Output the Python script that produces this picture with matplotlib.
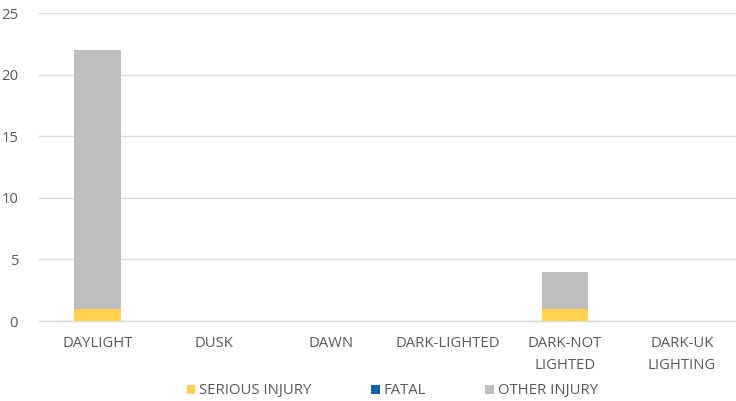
import numpy as np
import matplotlib.pyplot as plt

plt.rcParams['font.family'] = ['Open Sans', 'DejaVu Sans']

categories = ['DAYLIGHT', 'DUSK', 'DAWN', 'DARK-LIGHTED', 'DARK-NOT\nLIGHTED', 'DARK-UK\nLIGHTING']
serious = [1, 0, 0, 0, 1, 0]
fatal = [0, 0, 0, 0, 0, 0]
other = [21, 0, 0, 0, 3, 0]

text_col = '#595959'
fig = plt.figure(figsize=(7.36, 4.01), dpi=100)
ax = fig.add_axes([0.053, 0.1995, 0.953, 0.768])

x = np.arange(len(categories))
w = 0.40
ax.bar(x, serious, w, color='#FFD34F', label='SERIOUS INJURY', zorder=3)
ax.bar(x, fatal, w, bottom=serious, color='#0F62B0', label='FATAL', zorder=3)
bottom2 = np.array(serious) + np.array(fatal)
ax.bar(x, other, w, bottom=bottom2, color='#BFBFBF', label='OTHER INJURY', zorder=3)

ax.set_xlim(-0.5, len(categories) - 0.5)
ax.set_ylim(0, 25)
ax.set_yticks(range(0, 26, 5))
ax.set_xticks(x)
ax.set_xticklabels(categories, linespacing=1.6)
ax.grid(axis='y', color='#D9D9D9', linewidth=1, zorder=0)
for s in ['top', 'right', 'left']:
    ax.spines[s].set_visible(False)
ax.spines['bottom'].set_color('#D9D9D9')
ax.spines['bottom'].set_linewidth(1)
ax.tick_params(axis='both', length=0, colors=text_col, labelsize=10.7)
ax.tick_params(axis='x', pad=11)
ax.tick_params(axis='y', pad=15)

fig.legend(loc='center', bbox_to_anchor=(0.533, 0.025), ncol=3, frameon=False,
           fontsize=10.7, labelcolor=text_col, handlelength=0.6, handleheight=0.6,
           handletextpad=0.25, columnspacing=4.0)

fig.savefig('out.png', dpi=100)
